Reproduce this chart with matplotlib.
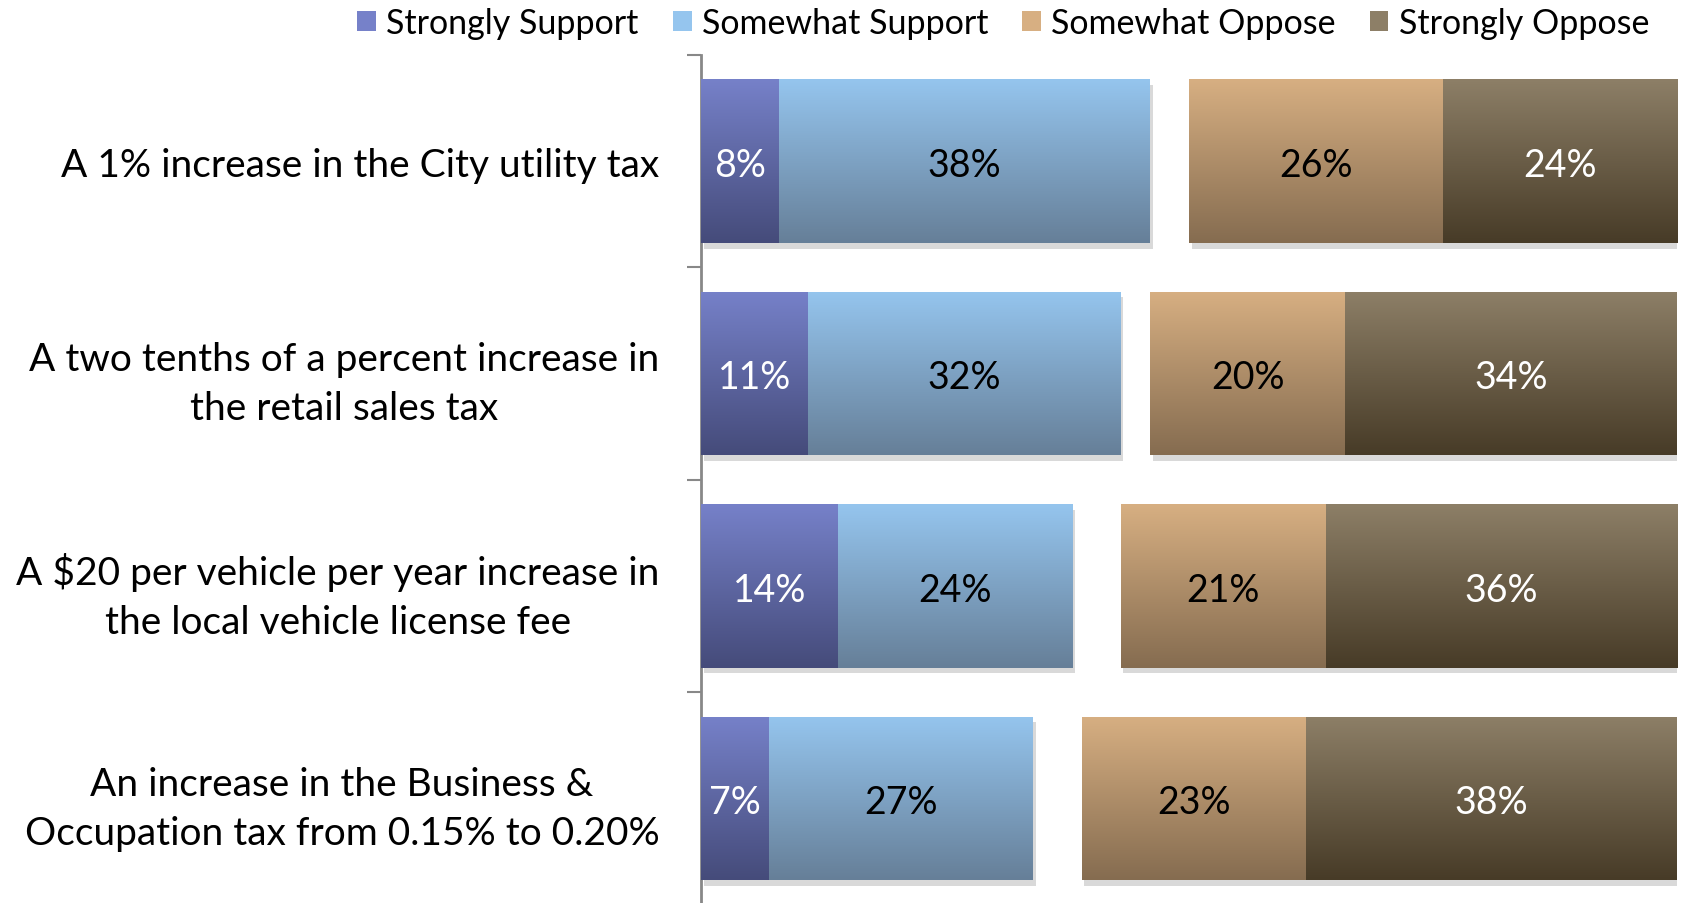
import numpy as np
import matplotlib.pyplot as plt
import matplotlib.patheffects as pe
from matplotlib.colors import LinearSegmentedColormap
from matplotlib.patches import Patch

plt.rcParams['font.family'] = ['Lato', 'DejaVu Sans']

# data
questions = [
    "A 1% increase in the City utility tax",
    "A two tenths of a percent increase in\nthe retail sales tax",
    "A $20 per vehicle per year increase in\nthe local vehicle license fee",
    "An increase in the Business &\nOccupation tax from 0.15% to 0.20%",
]
strongly_support = [8, 11, 14, 7]
somewhat_support = [38, 32, 24, 27]
somewhat_oppose = [26, 20, 21, 23]
strongly_oppose = [24, 34, 36, 38]
# remainder (not shown) sits between support and oppose
neutral = [100 - a - b - c - d for a, b, c, d in
           zip(strongly_support, somewhat_support, somewhat_oppose, strongly_oppose)]

series = [
    ("Strongly Support", strongly_support, ("#7681c9", "#454b7a"), "white"),
    ("Somewhat Support", somewhat_support, ("#95c5ee", "#667f98"), "black"),
    (None, neutral, None, None),
    ("Somewhat Oppose", somewhat_oppose, ("#d7af82", "#856c50"), "black"),
    ("Strongly Oppose", strongly_oppose, ("#8d7f67", "#473b27"), "white"),
]

fig = plt.figure(figsize=(16.83, 9.04), dpi=100)
ax = fig.add_axes([0.4165, -0.002, 0.5800, 0.940])

y = np.arange(len(questions))
left = np.zeros(len(questions))
bar_h = 0.77
grad = np.linspace(0, 1, 256).reshape(-1, 1)

handles = []
for name, vals, cols, txtcol in series:
    vals = np.array(vals, dtype=float)
    if name is None:
        left += vals
        continue
    cmap = LinearSegmentedColormap.from_list(name, [cols[0], cols[1]])
    bars = ax.barh(y, vals, left=left, height=bar_h, color=cols[1], linewidth=0,
                   zorder=2)
    for b, v in zip(bars, vals):
        b.set_path_effects([pe.SimplePatchShadow(offset=(2, -4), shadow_rgbFace="#000000",
                                                 alpha=0.15), pe.Normal()])
        x0, y0 = b.get_x(), b.get_y()
        im = ax.imshow(grad, cmap=cmap, aspect='auto', zorder=3,
                       extent=(x0, x0 + v, y0 + bar_h, y0), origin='upper')
        im.set_clip_path(b)
        ax.text(x0 + v / 2, b.get_y() + bar_h / 2, f"{int(v)}%", ha='center',
                va='center_baseline', color=txtcol, fontsize=27, zorder=4)
    handles.append(Patch(facecolor=cols[0], edgecolor='none', label=name))
    left += vals

ax.set_xlim(0, 100)
ax.set_ylim(len(questions) - 0.5, -0.5)
ax.set_yticks(y)
ax.set_yticklabels(questions, fontsize=28, ha='right', multialignment='center',
                   linespacing=1.45)
ax.tick_params(axis='y', which='major', length=0, pad=30)
ax.set_yticks(np.arange(-0.5, len(questions) - 0.4, 1), minor=True)
ax.tick_params(axis='y', which='minor', length=10, width=1.5, color="#888888")
ax.set_xticks([])
for s in ['top', 'right', 'bottom']:
    ax.spines[s].set_visible(False)
ax.spines['left'].set_color("#888888")
ax.spines['left'].set_linewidth(2)

fig.legend(handles=handles, loc='upper right', bbox_to_anchor=(0.998, 1.025), ncol=4,
           frameon=False, fontsize=24.5, handlelength=0.55, handleheight=0.55,
           handletextpad=0.3, columnspacing=1.0)

fig.savefig("out.png", dpi=100)
